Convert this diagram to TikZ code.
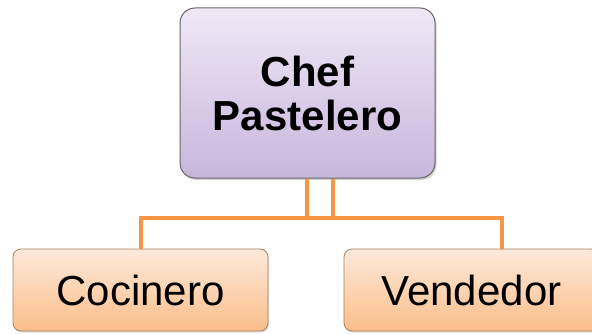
\documentclass[tikz,border=0pt]{standalone}
\usepackage{fontspec}
\setmainfont{Liberation Sans}
\usetikzlibrary{shadows}
\definecolor{linkorange}{HTML}{F79646}
\definecolor{chefTop}{HTML}{F0E8F5}
\definecolor{chefBottom}{HTML}{C7B6DC}
\definecolor{staffTop}{HTML}{FDE9DA}
\definecolor{staffBottom}{HTML}{FBBE8A}

\begin{document}
\begin{tikzpicture}[x=1pt,y=1pt,
  chefbox/.style={draw=gray!80!black,line width=1pt,rounded corners=15pt,
    top color=chefTop,bottom color=chefBottom,
    minimum width=255pt,minimum height=170pt,align=center,
    font=\fontsize{42}{44}\selectfont\bfseries,
    drop shadow={opacity=0.35,shadow xshift=1.5pt,shadow yshift=-2pt}},
  staffbox/.style={draw=brown!60!gray,line width=0.8pt,rounded corners=8pt,
    top color=staffTop,bottom color=staffBottom,
    minimum width=255pt,minimum height=82pt,
    font=\fontsize{42}{44}\selectfont,
    drop shadow={opacity=0.25,shadow xshift=1pt,shadow yshift=-1.5pt}},
  link/.style={draw=linkorange,line width=4pt}]
  \useasboundingbox (0,0) rectangle (592,333);
  \node[chefbox] (chef) at (307.5,240) {Chef\\Pastelero};
  \node[staffbox] (cocinero) at (140.5,43) {Cocinero};
  \node[staffbox] (vendedor) at (471.5,43) {Vendedor};
  \coordinate (bar) at (0,115);
  \coordinate (vtop) at ([xshift=30pt]vendedor.north);
  \draw[link] ([xshift=25.5pt]chef.south) |- (bar -| cocinero.north) -- (cocinero.north);
  \draw[link] ([xshift=-0.5pt]chef.south) |- (bar -| vtop) -- (vtop);
\end{tikzpicture}
\end{document}
